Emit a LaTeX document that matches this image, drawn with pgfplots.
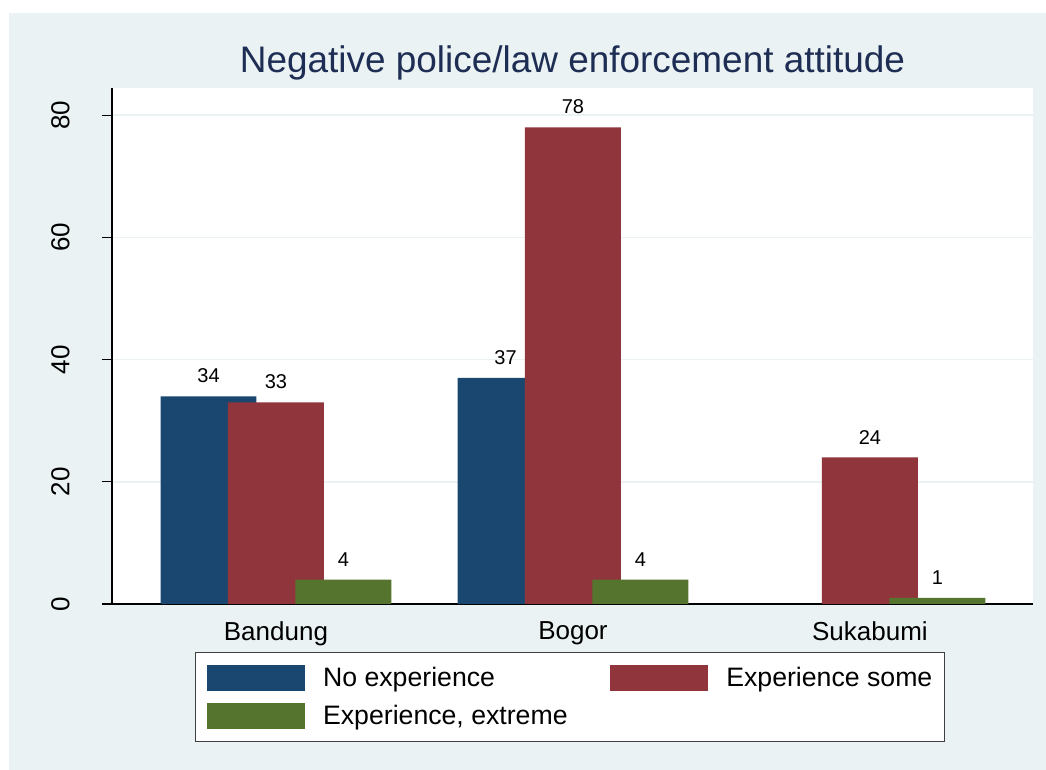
\documentclass[border=0pt]{standalone}
\usepackage{fontspec}
\setmainfont{Liberation Sans}
\usepackage{pgfplots}
\pgfplotsset{compat=1.18}
\definecolor{bgc}{RGB}{234,242,243}
\definecolor{sblue}{RGB}{26,71,111}
\definecolor{sred}{RGB}{144,53,59}
\definecolor{sgreen}{RGB}{85,117,47}
\definecolor{titlec}{RGB}{30,45,83}
\begin{document}
\begin{tikzpicture}
\useasboundingbox (-84pt,-124.5pt) rectangle (700.5pt,453pt);
\fill[bgc] (-77.25pt,-124.5pt) rectangle (700.5pt,443.25pt);
\begin{axis}[
  at={(0pt,0pt)}, anchor=south west,
  scale only axis, width=690.75pt, height=387pt,
  xmin=0.448, xmax=3.549, ymin=0, ymax=84.45,
  /pgf/number format/assume math mode=true,
  axis background/.style={fill=white},
  axis x line*=bottom, axis y line*=left,
  axis line style={line width=0.8pt, black},
  ybar, bar width=0.323,
  xtick={1,2,3}, xticklabels={Bandung,Bogor,Sukabumi},
  xtick align=inside, x tick style={draw=none},
  xticklabel style={anchor=north, inner sep=0pt, yshift=-12.75pt, font=\fontsize{19.5}{23}\selectfont},
  ytick={0,20,40,60,80}, ytick align=outside, major tick length=7.5pt,
  y tick style={line width=0.8pt, black},
  yticklabel style={rotate=90, anchor=south, inner sep=0pt, font=\fontsize{19.5}{23}\selectfont},
  yticklabel shift=24pt,
  ymajorgrids, grid style={line width=1.2pt, bgc},
  title={Negative police/law enforcement attitude},
  title style={at={(0.5,1)}, anchor=base, yshift=6pt, inner sep=0pt, font=\fontsize{27.7}{33}\selectfont, text=titlec},
  nodes near coords,
  every node near coord/.append style={font=\fontsize{15}{18}\selectfont, anchor=south, inner sep=0pt, yshift=9.75pt, text=black},
  legend columns=2,
  legend cell align=left,
  legend style={at={(0.497,-0.093)}, anchor=north, draw=black!75, fill=white, line width=0.75pt,
    font=\fontsize{20}{24}\selectfont, inner xsep=9pt, inner ysep=9.5pt, row sep=9pt,
    nodes={inner sep=0pt},
    /tikz/every odd column/.append style={column sep=13.5pt},
    /tikz/every even column/.append style={column sep=32pt}},
]
\addplot[fill=sblue, draw=none, bar shift=-0.227,
  legend image code/.code={\fill[sblue] (0pt,-9.75pt) rectangle (73.5pt,9.75pt);}]
  coordinates {(1,34) (2,37)};
\addlegendentry{No experience}
\addplot[fill=sred, draw=none, bar shift=0,
  legend image code/.code={\fill[sred] (0pt,-9.75pt) rectangle (73.5pt,9.75pt);}]
  coordinates {(1,33) (2,78) (3,24)};
\addlegendentry{Experience some}
\addplot[fill=sgreen, draw=none, bar shift=0.227,
  legend image code/.code={\fill[sgreen] (0pt,-9.75pt) rectangle (73.5pt,9.75pt);}]
  coordinates {(1,4) (2,4) (3,1)};
\addlegendentry{Experience, extreme}
\end{axis}
\end{tikzpicture}
\end{document}
